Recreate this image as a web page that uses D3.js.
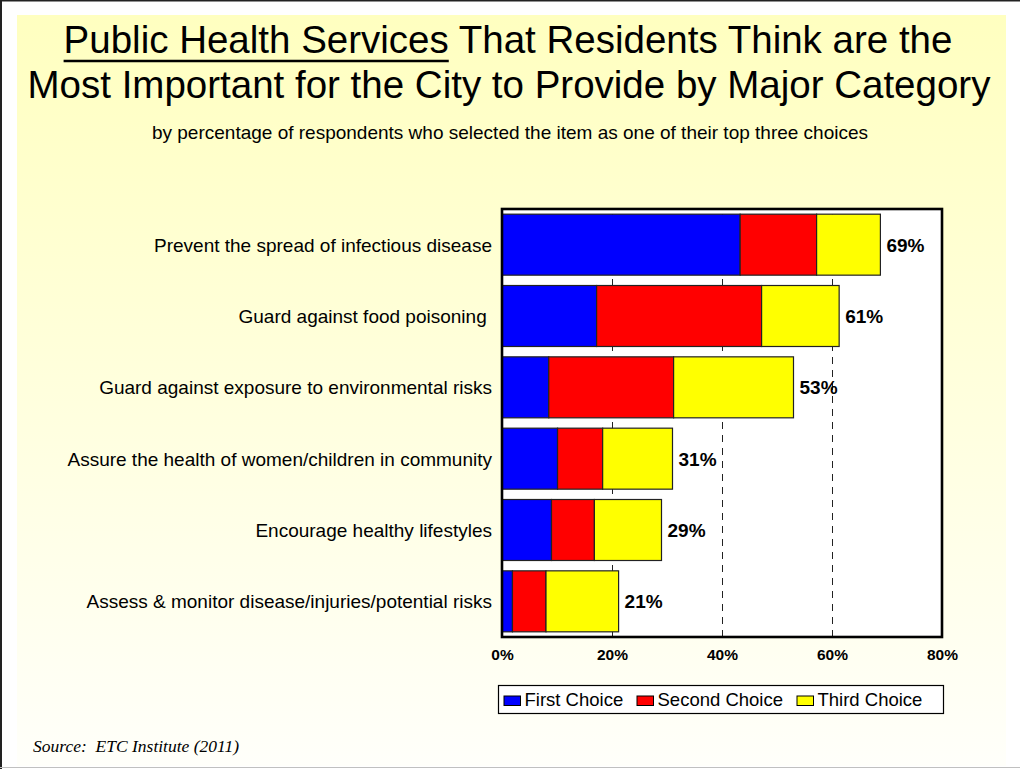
<!DOCTYPE html>
<html><head><meta charset="utf-8">
<script src="https://cdn.jsdelivr.net/npm/d3@7"></script>
<style>
html,body{margin:0;padding:0;background:#fff;}
svg{display:block;font-family:Arial,"Liberation Sans",sans-serif;}
</style></head>
<body>
<svg id="chart" width="1020" height="769"></svg>
<script>
const categories = [
  "Prevent the spread of infectious disease",
  "Guard against food poisoning ",
  "Guard against exposure to environmental risks",
  "Assure the health of women/children in community",
  "Encourage healthy lifestyles",
  "Assess & monitor disease/injuries/potential risks"
];
const firstChoice  = [43.3, 17.2, 8.5, 10.1, 9.0, 1.9];
const secondChoice = [13.9, 30.0, 22.7, 8.2, 7.8, 6.1];
const thirdChoice  = [11.6, 14.1, 21.8, 12.7, 12.2, 13.2];
const totalLabels  = ["69%", "61%", "53%", "31%", "29%", "21%"];
const seriesNames  = ["First Choice", "Second Choice", "Third Choice"];
const seriesColors = ["#0000ff", "#ff0000", "#ffff00"];
const xTicks = [0, 20, 40, 60, 80];
const gridTicks = [20, 40, 60];

const svg = d3.select("#chart");
const W = 1020, H = 769;

// background
const defs = svg.append("defs");
const grad = defs.append("linearGradient").attr("id","bg").attr("x1",0).attr("y1",0).attr("x2",0).attr("y2",1);
grad.append("stop").attr("offset","0%").attr("stop-color","#ffffc0");
grad.append("stop").attr("offset","100%").attr("stop-color","#fffffa");
svg.append("rect").attr("x",0).attr("y",0).attr("width",W).attr("height",H).attr("fill","#fff");
svg.append("rect").attr("x",17).attr("y",15).attr("width",989).attr("height",751).attr("fill","url(#bg)");
svg.append("line").attr("x1",1).attr("x2",1).attr("y1",0).attr("y2",H).attr("stroke","#222").attr("stroke-width",2);
svg.append("line").attr("x1",0).attr("x2",W).attr("y1",0.75).attr("y2",0.75).attr("stroke","#222").attr("stroke-width",1.5);
svg.append("line").attr("x1",0).attr("x2",W).attr("y1",767.5).attr("y2",767.5).attr("stroke","#c0c0c0").attr("stroke-width",1);

// title
const t1 = svg.append("text").attr("x",508).attr("y",53).attr("text-anchor","middle")
  .attr("font-size",38.5).attr("fill","#000");
t1.append("tspan").text("Public Health Services");
t1.append("tspan").text(" That Residents Think are the");
svg.append("text").attr("x",509).attr("y",98).attr("text-anchor","middle")
  .attr("font-size",38.5).attr("fill","#000")
  .text("Most Important for the City to Provide by Major Category");
// underline of first phrase
{
  const node = t1.node();
  const n = "Public Health Services".length;
  const sx = node.getStartPositionOfChar(0).x;
  const ex = node.getEndPositionOfChar(n-1).x;
  svg.append("line").attr("x1",sx).attr("x2",ex).attr("y1",61).attr("y2",61)
    .attr("stroke","#000").attr("stroke-width",2.5);
}
svg.append("text").attr("x",510).attr("y",139).attr("text-anchor","middle")
  .attr("font-size",19).attr("fill","#000")
  .text("by percentage of respondents who selected the item as one of their top three choices");

// plot
const px0 = 502, px1 = 942, py0 = 209, py1 = 637;
const x = d3.scaleLinear().domain([0,80]).range([px0,px1]);
const y = d3.scaleBand().domain(categories).range([py0,py1]).paddingInner(0.145).paddingOuter(0.0725);

svg.append("rect").attr("x",px0).attr("y",py0).attr("width",px1-px0).attr("height",py1-py0).attr("fill","#fff");

// gridlines
const grid = svg.append("g").attr("transform",`translate(0,${py1})`)
  .call(d3.axisBottom(x).tickValues(gridTicks).tickSize(-(py1-py0)).tickFormat(""));
grid.select(".domain").remove();
grid.selectAll(".tick line").attr("stroke","#222").attr("stroke-width",1).attr("stroke-dasharray","7,6");

// stacked bars
const stackData = categories.map((c,i)=>({cat:c, s0:firstChoice[i], s1:secondChoice[i], s2:thirdChoice[i]}));
const stack = d3.stack().keys(["s0","s1","s2"])(stackData);
svg.append("g").selectAll("g").data(stack).join("g")
  .attr("fill",(d,i)=>seriesColors[i])
  .selectAll("rect").data(d=>d).join("rect")
  .attr("x",d=>x(d[0])).attr("width",d=>x(d[1])-x(d[0]))
  .attr("y",d=>y(d.data.cat)).attr("height",y.bandwidth())
  .attr("stroke","#222").attr("stroke-width",1.2);

// total labels
svg.append("g").selectAll("text").data(categories).join("text")
  .attr("x",(c,i)=>x(firstChoice[i]+secondChoice[i]+thirdChoice[i])+6)
  .attr("y",c=>y(c)+y.bandwidth()/2+7)
  .attr("font-size",19).attr("font-weight","bold").attr("fill","#000")
  .text((c,i)=>totalLabels[i]);

// category labels
svg.append("g").selectAll("text").data(categories).join("text")
  .attr("x",492).attr("y",c=>y(c)+y.bandwidth()/2+7)
  .attr("text-anchor","end").attr("font-size",19).attr("fill","#000")
  .style("white-space","pre")
  .text(c=>c);

// frame
svg.append("rect").attr("x",px0).attr("y",py0).attr("width",px1-px0).attr("height",py1-py0)
  .attr("fill","none").attr("stroke","#000").attr("stroke-width",2.6);

// x axis labels
const ax = svg.append("g").attr("transform",`translate(0,${py1})`)
  .call(d3.axisBottom(x).tickValues(xTicks).tickSize(0).tickFormat(d=>d+"%"));
ax.select(".domain").remove();
ax.selectAll("text").attr("font-size",15.5).attr("font-weight","bold").attr("fill","#000")
  .attr("font-family","Arial, 'Liberation Sans', sans-serif").attr("dy",0).attr("y",23);

// legend
const lg = svg.append("g");
lg.append("rect").attr("x",498.5).attr("y",685.5).attr("width",445).attr("height",28)
  .attr("fill","#fff").attr("stroke","#000").attr("stroke-width",1.2);
const legX = [504, 637, 797];
seriesNames.forEach((n,i)=>{
  lg.append("rect").attr("x",legX[i]).attr("y",696).attr("width",16.5).attr("height",9.5)
    .attr("fill",seriesColors[i]).attr("stroke","#000").attr("stroke-width",1);
  lg.append("text").attr("x",legX[i]+20.5).attr("y",706).attr("font-size",18.5).attr("fill","#000").text(n);
});

// source
svg.append("text").attr("x",33).attr("y",752).attr("font-family","'Liberation Serif','Times New Roman',serif")
  .attr("font-style","italic").attr("font-size",17.5).attr("fill","#000")
  .style("white-space","pre").text("Source:  ETC Institute (2011)");
</script>
</body></html>
